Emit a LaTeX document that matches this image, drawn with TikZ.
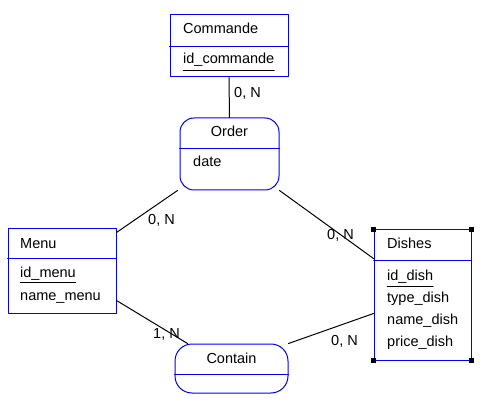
\documentclass[tikz,border=0pt]{standalone}
\usepackage{fontspec}
\setmainfont{Liberation Sans}
\tikzset{
  entity/.style={draw=blue, line width=1pt, fill=white, inner sep=0pt},
  assoc/.style={draw=blue, line width=1pt, rounded corners=14pt, inner sep=0pt},
  sep/.style={draw=blue, line width=1pt},
  attr/.style={anchor=base west, inner sep=0pt, font=\fontsize{14.5}{16}\selectfont},
  title/.style={anchor=base, inner sep=0pt, font=\fontsize{14.5}{16}\selectfont},
  card/.style={anchor=base west, inner sep=0pt, font=\fontsize{14.5}{16}\selectfont},
  link/.style={line width=1pt},
  handle/.style={fill=black, minimum size=5pt, inner sep=0pt}
}
\begin{document}
\begin{tikzpicture}[x=1pt, y=-1pt, line join=round, line cap=round]
	\useasboundingbox (0,0) rectangle (504,417);
	% entities
	\node[entity, minimum width=118pt, minimum height=62pt] (commande) at (229,46) {};
	\draw[sep] ([yshift=-32pt]commande.north west) -- ([yshift=-32pt]commande.north east);
	\node[attr] (tcommande) at (183,34) {Commande};
	\node[attr] (idcommande) at (183,64) {id\_commande};
	\draw ([yshift=-6pt]idcommande.base west) -- ([yshift=-6pt]idcommande.base east);

	\node[entity, minimum width=108pt, minimum height=84pt] (menu) at (62,271) {};
	\draw[sep] ([yshift=-30pt]menu.north west) -- ([yshift=-30pt]menu.north east);
	\node[attr] (tmenu) at (20,248) {Menu};
	\node[attr] (idmenu) at (20,277) {id\_menu};
	\draw ([yshift=-5pt]idmenu.base west) -- ([yshift=-5pt]idmenu.base east);
	\node[attr] (namemenu) at (20,300) {name\_menu};

	\node[entity, minimum width=97pt, minimum height=130pt] (dishes) at (422.5,295) {};
	\draw[sep] ([yshift=-31pt]dishes.north west) -- ([yshift=-31pt]dishes.north east);
	\node[attr] (tdishes) at (387,248) {Dishes};
	\node[attr] (iddish) at (387,280) {id\_dish};
	\draw ([yshift=-6pt]iddish.base west) -- ([yshift=-6pt]iddish.base east);
	\node[attr] (typedish) at (387,302) {type\_dish};
	\node[attr] (namedish) at (387,324) {name\_dish};
	\node[attr] (pricedish) at (387,346) {price\_dish};
	\foreach \c/\n in {north west/nw, north east/ne, south west/sw, south east/se}
		\node[handle] (h\n) at (dishes.\c) {};

	% associations
	\node[assoc, minimum width=99pt, minimum height=72pt] (order) at (229.5,154) {};
	\draw[sep] ([yshift=-31pt]order.north west) -- ([yshift=-31pt]order.north east);
	\node[title] (torder) at (229.5,137) {Order};
	\node[attr] (date) at (193,167) {date};

	\node[assoc, rounded corners=17pt, minimum width=113pt, minimum height=49pt] (contain) at (231.5,368.5) {};
	\draw[sep] ([yshift=-31pt]contain.north west) -- ([yshift=-31pt]contain.north east);
	\node[title] (tcontain) at (231.5,363) {Contain};

	% links
	\draw[link] (commande.south) -- (order.north);
	\draw[link] ([yshift=-4pt]menu.north east) -- ([xshift=-2pt]order.south west);
	\draw[link] (order.south east) -- ([yshift=-29pt]dishes.north west);
	\draw[link] ([yshift=13pt]menu.south east) -- ([xshift=13pt]contain.north west);
	\draw[link] (contain.north east) -- ([yshift=-84pt]dishes.north west);

	% cardinalities
	\node[card] (c1) at (234,98) {0, N};
	\node[card] (c2) at (148,225) {0, N};
	\node[card] (c3) at (327,240) {0, N};
	\node[card] (c4) at (153,338) {1, N};
	\node[card] (c5) at (331,345) {0, N};
\end{tikzpicture}
\end{document}
